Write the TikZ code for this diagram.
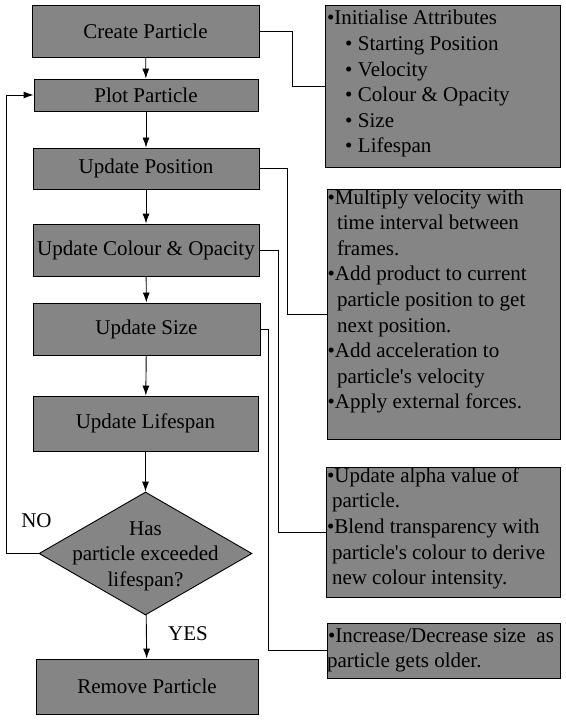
\documentclass[tikz,border=0pt]{standalone}
\usepackage{fontspec}
\setmainfont{Liberation Serif}
\usetikzlibrary{shapes.geometric}
\usetikzlibrary{arrows.meta}

\definecolor{boxgray}{RGB}{133,133,133}
\newcommand{\notepar}[4]{\parbox[c][#2][t]{#1}{\rule{0pt}{#3}#4}}

\tikzset{
  stepbox/.style={draw, fill=boxgray, line width=0.9pt, inner sep=0pt},
  notebox/.style={draw, fill=boxgray, line width=0.9pt, inner sep=0pt},
  decision/.style={draw, fill=boxgray, line width=0.9pt, diamond, inner sep=0pt,
    minimum width=213pt, minimum height=123pt},
  flow/.style={line width=0.9pt, -{Latex[length=10pt,width=7pt]}},
  link/.style={line width=0.9pt}
}

\begin{document}
\begin{tikzpicture}[x=1pt, y=-1pt, font=\fontsize{21}{25.6}\selectfont]
\useasboundingbox (0,0) rectangle (565,722);

% left column
\node[stepbox, minimum width=227pt, minimum height=52pt] (create) at (145.5,31) {Create Particle};
\node[stepbox, minimum width=224pt, minimum height=32pt] (plot) at (146,95) {Plot Particle};
\node[stepbox, minimum width=226pt, minimum height=41pt] (pos) at (146,168.5) {Update Position};
\node[stepbox, minimum width=226pt, minimum height=52pt] (colour) at (146,250) {Update Colour \& Opacity};
\node[stepbox, minimum width=227pt, minimum height=52pt] (size) at (146.5,329) {Update Size};
\node[stepbox, minimum width=225pt, minimum height=55pt] (life) at (145.5,423.5) {Update Lifespan};
\node[decision] (dec) at (145.5,553.5) {};
\node[align=center, inner sep=0pt] (dectext) at (145.5,556) {Has\\particle exceeded\\lifespan?};
\node[stepbox, minimum width=222pt, minimum height=55pt] (remove) at (147,686.5) {Remove Particle};

\node (no) at (36.5,521) {NO};
\node (yes) at (188,634) {YES};

\draw[flow] (create) -- (plot);
\draw[flow] (plot) -- (pos);
\draw[flow] (pos) -- (colour);
\draw[flow] (colour) -- (size);
\draw[flow] (size) -- (life);
\draw[flow] (life) -- (dec);
\draw[flow] (dec) -- (remove);
\draw[flow] (dec.west) -- ++(-32,0) |- (plot.west);

% notes on the right
\node[notebox] (note1) at (442.5,86) {\notepar{235pt}{162pt}{20pt}{%
\hspace*{2pt}•Initialise Attributes\\
\hspace*{20pt}•\hspace{5.6pt}Starting Position\\
\hspace*{20pt}•\hspace{5.6pt}Velocity\\
\hspace*{20pt}•\hspace{5.6pt}Colour \& Opacity\\
\hspace*{20pt}•\hspace{5.6pt}Size\\
\hspace*{20pt}•\hspace{5.6pt}Lifespan}};

\node[notebox] (note2) at (443.5,314) {\notepar{233pt}{250pt}{15pt}{%
\hspace*{0.5pt}•Multiply velocity with\\
\hspace*{10pt}time interval between\\
\hspace*{10pt}frames.\\
\hspace*{0.5pt}•Add product to current\\
\hspace*{10pt}particle position to get\\
\hspace*{10pt}next position.\\
\hspace*{0.5pt}•Add acceleration to\\
\hspace*{10pt}particle\textquotesingle s velocity\\
\hspace*{0.5pt}•Apply external forces.}};

\node[notebox] (note3) at (443,532.25) {\notepar{234pt}{129.5pt}{13.4pt}{%
\hspace*{1pt}•Update alpha value of\\
\hspace*{6pt}particle.\\
\hspace*{1pt}•Blend transparency with\\
\hspace*{6pt}particle\textquotesingle s colour to derive\\
\hspace*{6pt}new colour intensity.}};

\node[notebox] (note4) at (443.5,650.5) {\notepar{233pt}{55pt}{19pt}{%
\hspace*{1pt}•Increase/Decrease size \ as\\
particle gets older.}};

\draw[link] (create.east) -- ++(33,0) |- (note1.west);
\draw[link] (pos.east) -- ++(28,0) |- (note2.west);
\draw[link] (colour.east) -- ++(19,0) |- (note3.west);
\draw[link] (size.east) -- ++(8,0) |- (note4.west);

\end{tikzpicture}
\end{document}
